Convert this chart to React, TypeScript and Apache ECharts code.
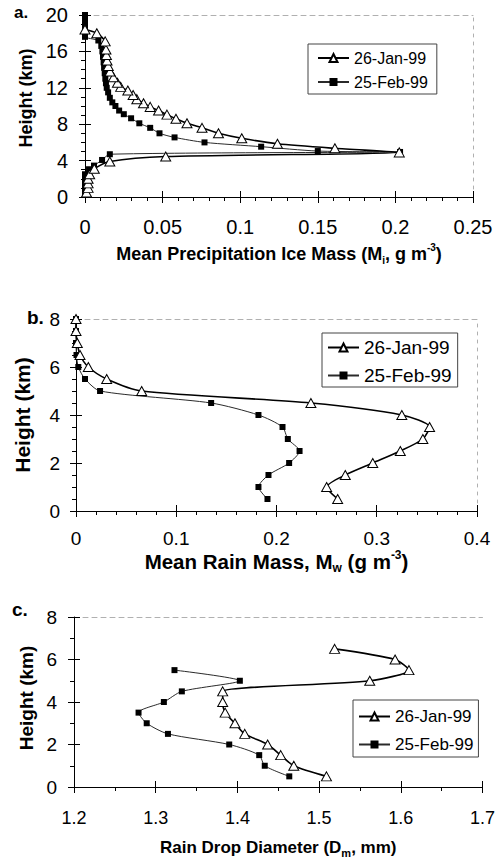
import React, { useEffect, useRef } from 'react';
import * as echarts from 'echarts';

const JAN = '26-Jan-99';
const FEB = '25-Feb-99';

// (a) Mean precipitation ice mass (g m^-3) against height (km)
const iceJanMass = [0.001, 0.002, 0.002, 0.002, 0.003, 0.006, 0.016, 0.052, 0.2025, 0.161, 0.124, 0.101, 0.086, 0.0754, 0.0657, 0.0586, 0.0528, 0.0474, 0.042, 0.0377, 0.0334, 0.031, 0.0276, 0.023, 0.0209, 0.0183, 0.0161, 0.015, 0.0142, 0.0138, 0.0135, 0.013, 0.0076, 0];
const iceJanHeight = [0.5, 1.0, 1.5, 2.0, 2.5, 3.1, 3.9, 4.45, 4.9, 5.35, 5.85, 6.45, 7.0, 7.6, 8.1, 8.6, 9.05, 9.5, 9.9, 10.3, 10.75, 11.2, 11.7, 12.1, 12.55, 13.15, 13.8, 14.4, 15.0, 15.6, 16.2, 17.1, 18.0, 18.4];
const iceFebMass = [0, 0, 0, 0, 0, 0.0026, 0.0058, 0.011, 0.016, 0.203, 0.15, 0.1135, 0.077, 0.0577, 0.048, 0.042, 0.035, 0.0297, 0.025, 0.022, 0.0196, 0.0176, 0.016, 0.0149, 0.014, 0.0135, 0.0131, 0.0127, 0.0123, 0.012, 0.0116, 0.0112, 0.0105, 0.0086, 0, 0, 0, 0, 0, 0, 0];
const iceFebHeight = [0.5, 1.0, 1.5, 2.0, 2.5, 3.05, 3.45, 4.07, 4.7, 4.95, 5.05, 5.53, 6.0, 6.55, 7.0, 7.6, 8.1, 8.65, 9.1, 9.5, 10.0, 10.4, 10.9, 11.5, 12.0, 12.5, 13.0, 13.6, 14.2, 14.8, 15.4, 16.0, 16.6, 17.2, 17.6, 18.0, 18.5, 19.0, 19.5, 20.0, 20.0];

// (b) Mean rain mass (g m^-3) against height (km)
const rainHeights = [0.5, 1.0, 1.5, 2.0, 2.5, 3.0, 3.5, 4.0, 4.5, 5.0, 5.5, 6.0, 6.5, 7.0, 7.5, 8.0];
const rainJanMass = [0.261, 0.25, 0.2686, 0.296, 0.3235, 0.346, 0.3527, 0.325, 0.2343, 0.0655, 0.0306, 0.0123, 0.004, 0.0013, 0, 0];
const rainFebMass = [0.191, 0.182, 0.192, 0.2126, 0.223, 0.2113, 0.206, 0.182, 0.1348, 0.024, 0.009, 0.0023, 0.0005, 0, 0, 0];

// (c) Rain drop diameter (mm) against height (km)
const dropJanHeights = [0.5, 1.0, 1.5, 2.0, 2.5, 3.0, 3.5, 4.0, 4.5, 5.0, 5.5, 6.0, 6.5];
const dropJanDiameter = [1.509, 1.469, 1.453, 1.437, 1.409, 1.397, 1.385, 1.382, 1.382, 1.562, 1.61, 1.593, 1.519];
const dropFebHeights = [0.5, 1.0, 1.5, 2.0, 2.5, 3.0, 3.5, 4.0, 4.5, 5.0, 5.5];
const dropFebDiameter = [1.4635, 1.4335, 1.4267, 1.39, 1.315, 1.289, 1.279, 1.31, 1.332, 1.403, 1.323];

const panelLetters = ['a.', 'b.', 'c.'];
const yTitle = 'Height (km)';

const FONT = '"Liberation Sans", Arial, Helvetica, sans-serif';

const pairs = (xs: number[], ys: number[]) => xs.map((v, i) => [v, ys[i]]);

type Panel = {
  grid: { left: number; top: number; width: number; height: number };
  x: { min: number; max: number; interval: number; minor: number; labelSize: number; margin: number; name: string; nameGap: number; nameSize: number; subSize: number };
  y: { min: number; max: number; interval: number; minor: number; labelSize: number; margin: number; nameGap: number; nameSize: number; namePad: number[] };
  rightBorder: boolean;
  legend: { left: number; top: number; fontSize: number; gap: number; padding: number[] };
  letter: { left: number; top: number; size: number };
};

const panels: Panel[] = [
  {
    grid: { left: 85, top: 15, width: 388, height: 182 },
    x: { min: 0, max: 0.25, interval: 0.05, minor: 5, labelSize: 20, margin: 20, name: '{t|Mean Precipitation Ice Mass (M}{sub|i}{t|, g m}{sup|-3}{t|)}', nameGap: 45, nameSize: 18, subSize: 10 },
    y: { min: 0, max: 20, interval: 4, minor: 4, labelSize: 20, margin: 17, nameGap: 50, nameSize: 18, namePad: [0, 0, 0, 16] },
    rightBorder: true,
    legend: { left: 308, top: 44, fontSize: 16, gap: 8, padding: [6, 9, 4, 9] },
    letter: { left: 14, top: 4, size: 17 },
  },
  {
    grid: { left: 76, top: 319, width: 401, height: 192 },
    x: { min: 0, max: 0.4, interval: 0.1, minor: 5, labelSize: 19, margin: 18, name: '{t|Mean Rain Mass, M}{sub|w}{t| (g m}{sup|-3}{t|)}', nameGap: 29, nameSize: 20.5, subSize: 12 },
    y: { min: 0, max: 8, interval: 2, minor: 4, labelSize: 19, margin: 16, nameGap: 43, nameSize: 21, namePad: [0, 0, 0, 0] },
    rightBorder: true,
    legend: { left: 322, top: 333, fontSize: 19, gap: 9, padding: [5, 6, 2, 5] },
    letter: { left: 27, top: 308, size: 19 },
  },
  {
    grid: { left: 74, top: 617, width: 417.5, height: 170 },
    x: { min: 1.2, max: 1.7, interval: 0.1, minor: 2, labelSize: 18, margin: 22, name: '{t|Rain Drop Diameter (D}{sub|m}{t|, mm)}', nameGap: 49, nameSize: 17, subSize: 11 },
    y: { min: 0, max: 8, interval: 2, minor: 2, labelSize: 19, margin: 17, nameGap: 38, nameSize: 19, namePad: [0, 0, 0, 8] },
    rightBorder: false,
    legend: { left: 353, top: 700, fontSize: 17, gap: 11, padding: [8, 5, 4, 5] },
    letter: { left: 12, top: 600, size: 19 },
  },
];

const seriesData = [
  { jan: pairs(iceJanMass, iceJanHeight), feb: pairs(iceFebMass, iceFebHeight) },
  { jan: pairs(rainJanMass, rainHeights), feb: pairs(rainFebMass, rainHeights) },
  { jan: pairs(dropJanDiameter, dropJanHeights), feb: pairs(dropFebDiameter, dropFebHeights) },
];

function buildOption() {
  const xAxis: any[] = [];
  const yAxis: any[] = [];
  // main axes
  panels.forEach((p, i) => {
    xAxis.push({
      type: 'value', gridIndex: i, position: 'bottom', min: p.x.min, max: p.x.max, interval: p.x.interval,
      axisLine: { show: true, onZero: false, lineStyle: { color: '#000', width: 1 } },
      axisTick: { show: true, inside: false, length: 6, lineStyle: { color: '#000', width: 1 } },
      minorTick: { show: true, splitNumber: p.x.minor, length: 4, lineStyle: { color: '#000', width: 1 } },
      axisLabel: { fontSize: p.x.labelSize, color: '#000', margin: p.x.margin, fontFamily: FONT, showMaxLabel: true, showMinLabel: true },
      splitLine: { show: false },
      name: p.x.name, nameLocation: 'middle', nameGap: p.x.nameGap,
      nameTextStyle: {
        fontFamily: FONT,
        rich: {
          t: { fontSize: p.x.nameSize, fontWeight: 'bold', color: '#000', fontFamily: FONT, lineHeight: p.x.nameSize + 5 },
          sub: { fontSize: p.x.subSize, fontWeight: 'bold', color: '#000', fontFamily: FONT, lineHeight: p.x.subSize, verticalAlign: 'bottom' },
          sup: { fontSize: p.x.subSize, fontWeight: 'bold', color: '#000', fontFamily: FONT, lineHeight: p.x.subSize, verticalAlign: 'top' },
        },
      },
    });
    yAxis.push({
      type: 'value', gridIndex: i, position: 'left', min: p.y.min, max: p.y.max, interval: p.y.interval,
      axisLine: { show: true, onZero: false, lineStyle: { color: '#000', width: 1 } },
      axisTick: { show: true, inside: false, length: 6, lineStyle: { color: '#000', width: 1 } },
      minorTick: { show: true, splitNumber: p.y.minor, length: 4, lineStyle: { color: '#000', width: 1 } },
      axisLabel: { fontSize: p.y.labelSize, color: '#000', margin: p.y.margin, fontFamily: FONT },
      splitLine: { show: false },
      name: yTitle, nameLocation: 'middle', nameGap: p.y.nameGap, nameRotate: 90,
      nameTextStyle: { fontSize: p.y.nameSize, fontWeight: 'bold', color: '#000', fontFamily: FONT, padding: p.y.namePad },
    });
  });
  // inner halves of the crossing major ticks
  panels.forEach((p, i) => {
    xAxis.push({
      type: 'value', gridIndex: i, position: 'bottom', min: p.x.min, max: p.x.max, interval: p.x.interval,
      axisLine: { show: false }, axisLabel: { show: false }, splitLine: { show: false },
      axisTick: { show: true, inside: true, length: 6, lineStyle: { color: '#000', width: 1 } },
    });
    yAxis.push({
      type: 'value', gridIndex: i, position: 'left', min: p.y.min, max: p.y.max, interval: p.y.interval,
      axisLine: { show: false }, axisLabel: { show: false }, splitLine: { show: false },
      axisTick: { show: true, inside: true, length: 6, lineStyle: { color: '#000', width: 1 } },
    });
  });
  // faint plot-area border on top / right
  panels.forEach((p, i) => {
    xAxis.push({
      type: 'value', gridIndex: i, position: 'top', min: p.x.min, max: p.x.max, interval: p.x.interval,
      axisLine: { show: true, onZero: false, lineStyle: { color: '#b0b0b0', width: 1, type: [5, 4] } },
      axisTick: { show: false }, axisLabel: { show: false }, splitLine: { show: false },
    });
    yAxis.push({
      type: 'value', gridIndex: i, position: 'right', min: p.y.min, max: p.y.max, interval: p.y.interval,
      axisLine: { show: p.rightBorder, onZero: false, lineStyle: { color: '#b0b0b0', width: 1, type: [3, 5] } },
      axisTick: { show: false }, axisLabel: { show: false }, splitLine: { show: false },
    });
  });

  const series: any[] = [];
  seriesData.forEach((d, i) => {
    series.push({
      type: 'line', name: FEB, xAxisIndex: i, yAxisIndex: i, data: d.feb,
      symbol: 'rect', symbolSize: 6, smooth: 0.25, z: 2,
      lineStyle: { color: '#2a2a2a', width: 1 },
      itemStyle: { color: '#000', borderColor: '#000', borderWidth: 0 },
    });
    series.push({
      type: 'line', name: JAN, xAxisIndex: i, yAxisIndex: i, data: d.jan,
      symbol: 'triangle', symbolSize: [10, 9], smooth: 0.25, z: 3,
      lineStyle: { color: '#000', width: 1.6 },
      itemStyle: { color: '#fff', borderColor: '#000', borderWidth: 1 },
    });
  });

  const legend = panels.map((p) => ({
    show: true, data: [JAN, FEB], orient: 'vertical', left: p.legend.left, top: p.legend.top,
    itemWidth: 31, itemHeight: 10, itemGap: p.legend.gap, padding: p.legend.padding,
    borderColor: '#444', borderWidth: 1, backgroundColor: '#fff', selectedMode: false,
    textStyle: { fontSize: p.legend.fontSize, lineHeight: p.legend.fontSize, color: '#000', fontFamily: FONT },
  }));

  const graphic = panels.map((p, i) => ({
    type: 'text', left: p.letter.left, top: p.letter.top,
    style: { text: panelLetters[i], font: `bold ${p.letter.size}px ${FONT}`, fill: '#000' },
  }));

  return {
    animation: false,
    backgroundColor: '#fff',
    grid: panels.map((p) => ({ ...p.grid, containLabel: false })),
    xAxis, yAxis, series, legend, graphic,
  };
}

export default function App() {
  const ref = useRef<HTMLDivElement>(null);
  useEffect(() => {
    document.body.style.margin = '0';
    if (!ref.current) return;
    const chart = echarts.init(ref.current, undefined, { renderer: 'svg' });
    chart.setOption(buildOption() as any);
    return () => chart.dispose();
  }, []);
  return <div ref={ref} style={{ position: 'absolute', left: 0, top: 0, width: 498, height: 862, background: '#fff' }} />;
}
